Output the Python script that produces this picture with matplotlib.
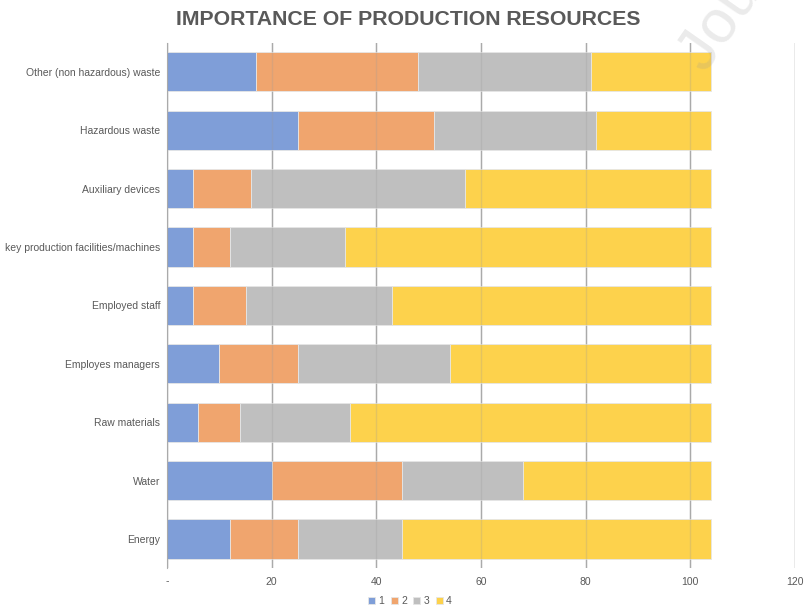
import matplotlib.pyplot as plt

# resources, listed bottom to top
resources = ['Energy', 'Water', 'Raw materials', 'Employes managers', 'Employed staff',
             'key production facilities/machines', 'Auxiliary devices',
             'Hazardous waste', 'Other (non hazardous) waste']

# number of answers per importance level
level_1 = [12, 20, 6, 10, 5, 5, 5, 25, 17]
level_2 = [13, 25, 8, 15, 10, 7, 11, 26, 31]
level_3 = [20, 23, 21, 29, 28, 22, 41, 31, 33]
level_4 = [59, 36, 69, 50, 61, 70, 47, 22, 23]

levels = ['1', '2', '3', '4']
colors = ['#7f9ed8', '#f0a56e', '#bfbfbf', '#fdd24c']

plt.rcParams['font.family'] = ['Liberation Sans', 'DejaVu Sans']

fig = plt.figure(figsize=(8.07, 6.09), dpi=100)
ax = fig.add_axes([0.207, 0.067, 0.778, 0.863])

y = range(len(resources))
left = [0] * len(resources)
for vals, lab, col in zip([level_1, level_2, level_3, level_4], levels, colors):
    ax.barh(y, vals, left=left, height=0.67, color=col, label=lab,
            edgecolor='#e6e6e6', linewidth=0.6, zorder=2)
    left = [a + b for a, b in zip(left, vals)]

# vertical gridlines, faintly visible over the bars too
for xv in range(0, 121, 20):
    ax.axvline(xv, color='#b0b0b0', linewidth=1.0, zorder=1)
    ax.axvline(xv, color='#9a9a9a', linewidth=1.0, alpha=0.25, zorder=3)

ax.set_xlim(0, 120)
ax.set_ylim(-0.5, len(resources) - 0.5)
ax.set_xticks(range(0, 121, 20))
ax.set_xticklabels(['-', '20', '40', '60', '80', '100', '120'])
ax.set_yticks(list(y))
ax.set_yticklabels(resources)
ax.tick_params(axis='both', length=0, labelsize=7.5, labelcolor='#595959')
ax.tick_params(axis='x', pad=6)
ax.tick_params(axis='y', pad=5)
for s in ['top', 'right', 'bottom']:
    ax.spines[s].set_visible(False)
ax.spines['left'].set_color('#b0b0b0')

fig.text(0.506, 0.968, 'IMPORTANCE OF PRODUCTION RESOURCES', ha='center', va='center',
         fontsize=15.3, fontweight='bold', color='#595959')

fig.legend(loc='center', bbox_to_anchor=(0.508, 0.013), ncol=4, frameon=False,
           fontsize=7.5, labelcolor='#595959', handlelength=0.7, handleheight=0.7,
           handletextpad=0.3, columnspacing=0.6)

# watermark
fig.text(0.886, 0.868, 'Journal', rotation=55, fontsize=44, color='#999999',
         alpha=0.2, ha='left', va='bottom', rotation_mode='anchor', zorder=5)

fig.savefig('out.png', dpi=100)
